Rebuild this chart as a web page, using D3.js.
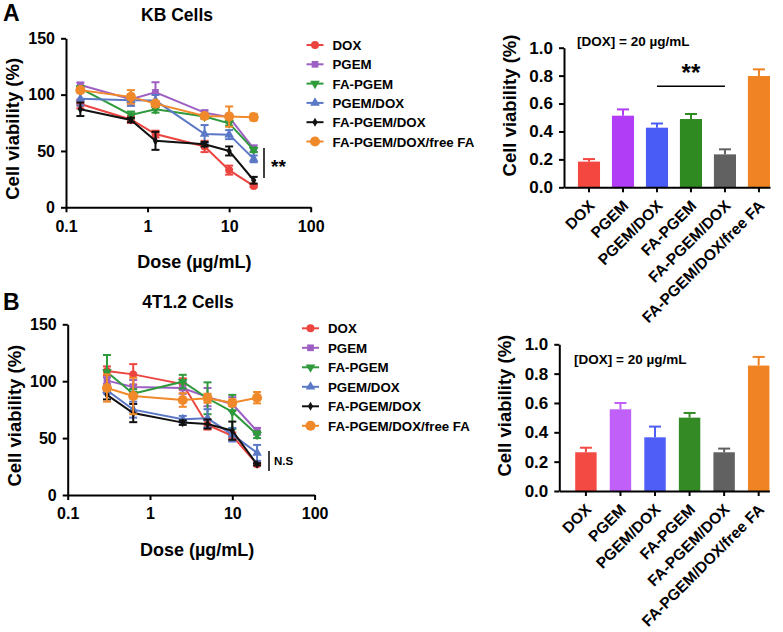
<!DOCTYPE html>
<html>
<head>
<meta charset="utf-8">
<script src="https://cdn.jsdelivr.net/npm/d3@7"></script>
<style>
  body { margin: 0; background: #fff; }
  svg { font-family: "Liberation Sans", Arial, Helvetica, sans-serif; font-weight: bold; }
  .axis path, .axis line { stroke: #000; stroke-width: 2; }
  .axis text { fill: #000; font-weight: bold; }
</style>
</head>
<body>
<svg id="fig" width="783" height="632"></svg>
<script>
// ---- data ----
const seriesNames = ["DOX", "PGEM", "FA-PGEM", "PGEM/DOX", "FA-PGEM/DOX", "FA-PGEM/DOX/free FA"];
const seriesColors = ["#ec4540", "#9d5fc2", "#2e9a3c", "#5a78c6", "#111111", "#f0892a"];
const seriesShapes = ["circle", "square", "triangleDown", "triangle", "diamond", "bigCircle"];

const doseKB = [0.15, 0.625, 1.25, 5, 10, 20];
const doseT1 = [0.3, 0.625, 2.5, 5, 10, 20];
const doseTicks = [0.1, 1, 10, 100];
const viabilityTicks = [0, 50, 100, 150];

// rows follow seriesNames
const kbMean = [
  [91.7, 78, 65, 54, 33, 19],
  [108.6, 96, 102, 84, 80, 52],
  [105.6, 82, 87, 80.5, 74.5, 51],
  [96.4, 95, 94.7, 65, 64.5, 43],
  [87, 77.5, 59, 56, 50, 24],
  [104, 98, 92, 81, 80.5, 80]
];
const kbErr = [
  [4, 3, 3, 5, 4, 1],
  [2, 4, 9, 2, 3, 3],
  [2, 3, 3, 2, 2, 2],
  [6, 5, 5, 8, 4, 3],
  [6, 2, 8, 2, 4, 3],
  [2, 6, 2, 2, 9, 3]
];
const t1Mean = [
  [109, 106, 97.5, 61.5, 52, 27],
  [100.5, 95, 94, 86, 80, 56],
  [108, 89, 99.6, 85, 73, 53],
  [92, 75, 66.5, 67.4, 53, 37],
  [88, 72, 63.6, 62.4, 56.5, 27],
  [94, 87, 83.5, 85, 81, 85.5]
];
const t1Err = [
  [4, 9, 5, 4, 3, 1],
  [3, 6, 5, 8, 6, 3],
  [15, 4, 6, 14, 15, 3],
  [3, 7, 3, 8, 6, 7],
  [4, 8, 2, 4, 8, 1],
  [12, 16, 6, 4, 3, 5]
];

const barCategories = ["DOX", "PGEM", "PGEM/DOX", "FA-PGEM", "FA-PGEM/DOX", "FA-PGEM/DOX/free FA"];
const barColorsKB = ["#f4473f", "#b13df6", "#4a5cf6", "#2f8a22", "#616161", "#f08424"];
const barColorsT1 = ["#f44a44", "#c060f8", "#4e5ef6", "#348a24", "#616161", "#f08424"];
const kbBar = [0.184, 0.513, 0.427, 0.489, 0.236, 0.797];
const kbBarErr = [0.018, 0.045, 0.03, 0.036, 0.036, 0.048];
const t1Bar = [0.264, 0.557, 0.366, 0.5, 0.264, 0.855];
const t1BarErr = [0.031, 0.043, 0.073, 0.032, 0.025, 0.059];
const barTicks = [0, 0.2, 0.4, 0.6, 0.8, 1.0];

const svg = d3.select("#fig");

function marker(g, shape, color, cx, cy) {
  const sym = {
    circle: [d3.symbolCircle, 50],
    bigCircle: [d3.symbolCircle, 80],
    square: [d3.symbolSquare, 45],
    triangle: [d3.symbolTriangle, 40],
    triangleDown: [d3.symbolTriangle, 40],
    diamond: [d3.symbolDiamond, 24]
  }[shape];
  g.append("path")
    .attr("d", d3.symbol().type(sym[0]).size(sym[1])())
    .attr("transform", `translate(${cx},${cy})` + (shape === "triangleDown" ? " rotate(180)" : ""))
    .attr("fill", color);
}

function lineChart(cfg) {
  const x = d3.scaleLog().domain([0.1, 100]).range(cfg.xRange);
  const y = d3.scaleLinear().domain([0, 150]).range(cfg.yRange);
  const g = svg.append("g");

  g.append("g").attr("class", "axis")
    .attr("transform", `translate(0,${cfg.yRange[0]})`)
    .call(d3.axisBottom(x).tickValues(doseTicks).tickFormat(d3.format("~g")).tickSize(5).tickSizeOuter(0).tickPadding(8))
    .selectAll("text").style("font-size", "16px");
  g.append("g").attr("class", "axis")
    .attr("transform", `translate(${cfg.xRange[0]},0)`)
    .call(d3.axisLeft(y).tickValues(viabilityTicks).tickSize(5).tickSizeOuter(0).tickPadding(6))
    .selectAll("text").style("font-size", "16px");

  // series
  cfg.mean.forEach((vals, i) => {
    const col = seriesColors[i];
    const pts = vals.map((v, j) => ({ d: cfg.dose[j], v, e: cfg.err[i][j] }));
    const sg = g.append("g");
    sg.append("path")
      .datum(pts)
      .attr("fill", "none")
      .attr("stroke", col)
      .attr("stroke-width", 2)
      .attr("d", d3.line().x(p => x(p.d)).y(p => y(p.v)));
    pts.forEach(p => {
      const px = x(p.d);
      sg.append("line").attr("x1", px).attr("x2", px)
        .attr("y1", y(p.v - p.e)).attr("y2", y(p.v + p.e))
        .attr("stroke", col).attr("stroke-width", 2);
      [p.v - p.e, p.v + p.e].forEach(ev => {
        sg.append("line").attr("x1", px - 4).attr("x2", px + 4)
          .attr("y1", y(ev)).attr("y2", y(ev))
          .attr("stroke", col).attr("stroke-width", 2);
      });
      marker(sg, seriesShapes[i], col, px, y(p.v));
    });
  });

  // legend
  const lg = svg.append("g");
  seriesNames.forEach((name, i) => {
    const ly = cfg.legendY + i * cfg.legendStep;
    lg.append("line").attr("x1", cfg.legendX).attr("x2", cfg.legendX + 17)
      .attr("y1", ly).attr("y2", ly).attr("stroke", seriesColors[i]).attr("stroke-width", 2);
    marker(lg, seriesShapes[i], seriesColors[i], cfg.legendX + 8.5, ly);
    lg.append("text").attr("x", cfg.legendX + 26).attr("y", ly + 5)
      .style("font-size", "13.3px").text(name);
  });

  // significance mark
  g.append("line").attr("x1", cfg.sig.x).attr("x2", cfg.sig.x)
    .attr("y1", cfg.sig.y0).attr("y2", cfg.sig.y1)
    .attr("stroke", "#000").attr("stroke-width", 1.5);
  g.append("text").attr("x", cfg.sig.x + cfg.sig.dx).attr("y", (cfg.sig.y0 + cfg.sig.y1) / 2 + cfg.sig.dy)
    .style("font-size", cfg.sig.size).text(cfg.sig.label);

  // titles
  svg.append("text").attr("x", 3).attr("y", cfg.letterY).style("font-size", "23px").text(cfg.letter);
  svg.append("text").attr("x", cfg.titleX).attr("y", cfg.titleY).attr("text-anchor", "middle")
    .style("font-size", "17.5px").text(cfg.title);
  svg.append("text")
    .attr("transform", `translate(${cfg.xRange[0] - 47},${(cfg.yRange[0] + cfg.yRange[1]) / 2 + 6}) rotate(-90)`)
    .attr("text-anchor", "middle").style("font-size", "18.5px").text("Cell viability (%)");
  svg.append("text")
    .attr("x", (cfg.xRange[0] + cfg.xRange[1]) / 2 + 6).attr("y", cfg.yRange[0] + 61)
    .attr("text-anchor", "middle").style("font-size", "18px").text("Dose (\u00b5g/mL)");
}

function barChart(cfg) {
  const x = d3.scaleBand().domain(barCategories).range(cfg.xRange)
    .paddingInner(cfg.padIn).paddingOuter(cfg.padOut).align(1);
  const y = d3.scaleLinear().domain([0, 1]).range(cfg.yRange);
  const g = svg.append("g");

  g.selectAll("rect.bar").data(cfg.values).enter().append("rect")
    .attr("x", (d, i) => x(barCategories[i]))
    .attr("width", x.bandwidth())
    .attr("y", d => y(d))
    .attr("height", d => y(0) - y(d))
    .attr("fill", (d, i) => cfg.colors[i]);

  cfg.values.forEach((v, i) => {
    const cx = x(barCategories[i]) + x.bandwidth() / 2;
    const top = y(v + cfg.errs[i]);
    g.append("line").attr("x1", cx).attr("x2", cx).attr("y1", y(v)).attr("y2", top)
      .attr("stroke", cfg.colors[i]).attr("stroke-width", 2);
    g.append("line").attr("x1", cx - 6).attr("x2", cx + 6).attr("y1", top).attr("y2", top)
      .attr("stroke", cfg.colors[i]).attr("stroke-width", 2);
  });

  g.append("g").attr("class", "axis")
    .attr("transform", `translate(${cfg.xRange[0]},0)`)
    .call(d3.axisLeft(y).tickValues(barTicks).tickFormat(d3.format(".1f")).tickSize(5).tickSizeOuter(0).tickPadding(6))
    .selectAll("text").style("font-size", "17px");

  const xa = g.append("g").attr("class", "axis")
    .attr("transform", `translate(0,${cfg.yRange[0]})`)
    .call(d3.axisBottom(x).tickSize(5).tickSizeOuter(0));
  xa.selectAll("text")
    .style("font-size", "15.5px")
    .attr("text-anchor", "end")
    .attr("dy", "0.35em")
    .attr("transform", "translate(-3,10) rotate(-45)");

  g.append("text").attr("x", cfg.noteX).attr("y", cfg.noteY)
    .style("font-size", "13.5px").text("[DOX] = 20 \u00b5g/mL");

  svg.append("text")
    .attr("transform", `translate(${cfg.xRange[0] - 48},${(cfg.yRange[0] + cfg.yRange[1]) / 2 - 12}) rotate(-90)`)
    .attr("text-anchor", "middle").style("font-size", "18.5px").text("Cell viability (%)");

  if (cfg.sig) {
    const sx0 = x(cfg.sig.from) + x.bandwidth() / 2;
    const sx1 = x(cfg.sig.to) + x.bandwidth() / 2;
    g.append("line").attr("x1", sx0).attr("x2", sx1).attr("y1", cfg.sig.y).attr("y2", cfg.sig.y)
      .attr("stroke", "#000").attr("stroke-width", 1.5);
    g.append("text").attr("x", (sx0 + sx1) / 2).attr("y", cfg.sig.y - 5)
      .attr("text-anchor", "middle").style("font-size", "24px").text("**");
  }
}

lineChart({
  xRange: [66, 310.7], yRange: [207.3, 38.3],
  dose: doseKB, mean: kbMean, err: kbErr,
  legendX: 306.5, legendY: 45, legendStep: 19.3,
  sig: { x: 264, y0: 148, y1: 178, dx: 7, dy: 10, label: "**", size: "19px" },
  letter: "A", letterY: 21, title: "KB Cells", titleX: 177, titleY: 21
});

lineChart({
  xRange: [67.7, 314.6], yRange: [495, 324.3],
  dose: doseT1, mean: t1Mean, err: t1Err,
  legendX: 302, legendY: 328.3, legendStep: 19.5,
  sig: { x: 269, y0: 451, y1: 471, dx: 5, dy: 4, label: "N.S", size: "11.5px" },
  letter: "B", letterY: 310, title: "4T1.2 Cells", titleX: 188, titleY: 308
});

barChart({
  xRange: [564, 770], yRange: [187.3, 47.7], padIn: 0.35, padOut: 0.205,
  values: kbBar, errs: kbBarErr, colors: barColorsKB,
  noteX: 577, noteY: 46,
  sig: { from: "PGEM/DOX", to: "FA-PGEM/DOX", y: 86.3 }
});

barChart({
  xRange: [559.3, 769.4], yRange: [491, 344.3], padIn: 0.38, padOut: 0.23,
  values: t1Bar, errs: t1BarErr, colors: barColorsT1,
  noteX: 574, noteY: 364
});
</script>
</body>
</html>
